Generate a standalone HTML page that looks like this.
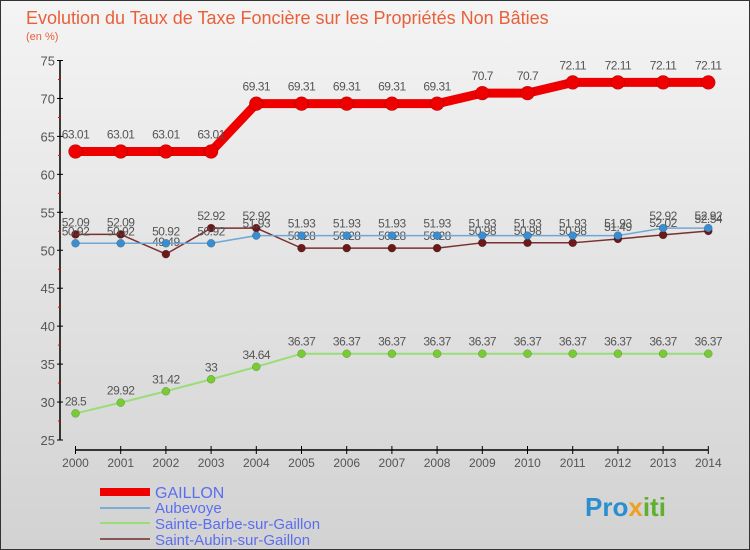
<!DOCTYPE html>
<html><head><meta charset="utf-8"><style>
body{margin:0;}
svg{display:block;font-family:"Liberation Sans",sans-serif;}
</style></head><body>
<svg id="chart" width="750" height="550" viewBox="0 0 750 550">
<defs>
<linearGradient id="bg" x1="0" y1="0" x2="0" y2="1">
<stop offset="0" stop-color="#f4f4f4"/><stop offset="1" stop-color="#d2d2d2"/>
</linearGradient>
</defs>
<rect x="0" y="0" width="750" height="550" fill="url(#bg)" stroke="#333" stroke-width="2"/>
<text x="26" y="24" font-size="18" fill="#e8603a">Evolution du Taux de Taxe Foncière sur les Propriétés Non Bâties</text>
<text x="26" y="40" font-size="11" fill="#e8603a">(en %)</text>
<g id="axes"></g>
<g id="series"></g>
<g id="legend">
<line x1="100" y1="492" x2="150" y2="492" stroke="#ee0000" stroke-width="8"/>
<text x="155" y="498" font-size="16" fill="#5b6ef0">GAILLON</text>
<line x1="100" y1="508" x2="150" y2="508" stroke="#7aaed0" stroke-width="2"/>
<text x="155" y="513" font-size="15" fill="#5b6ef0">Aubevoye</text>
<line x1="100" y1="523" x2="150" y2="523" stroke="#99dd77" stroke-width="2"/>
<text x="155" y="529" font-size="15" fill="#5b6ef0">Sainte-Barbe-sur-Gaillon</text>
<line x1="100" y1="539" x2="150" y2="539" stroke="#8b5555" stroke-width="2"/>
<text x="155" y="545" font-size="15" fill="#5b6ef0">Saint-Aubin-sur-Gaillon</text>
</g>
<text x="585" y="516" font-size="26" font-weight="bold"><tspan fill="#2a8fd0">Pro</tspan><tspan fill="#f0a020">x</tspan><tspan fill="#60b030">iti</tspan></text>
</svg>
<script>
const years = [2000,2001,2002,2003,2004,2005,2006,2007,2008,2009,2010,2011,2012,2013,2014];
const yTicks = [25,30,35,40,45,50,55,60,65,70,75];
const gaillon = [63.01,63.01,63.01,63.01,69.31,69.31,69.31,69.31,69.31,70.7,70.7,72.11,72.11,72.11,72.11];
const aubevoye = [50.92,50.92,50.92,50.92,51.93,51.93,51.93,51.93,51.93,51.93,51.93,51.93,51.93,52.92,52.92];
const sainteBarbe = [28.5,29.92,31.42,33,34.64,36.37,36.37,36.37,36.37,36.37,36.37,36.37,36.37,36.37,36.37];
const saintAubin = [52.09,52.09,49.49,52.92,52.92,50.28,50.28,50.28,50.28,50.98,50.98,50.98,51.49,52.02,52.54];

const NS="http://www.w3.org/2000/svg";
const x0=75.5, xStep=45.2, yMin=25, yMax=75, yTop=60.5, yBot=440;
function xs(i){return x0+i*xStep;}
function ys(v){return yBot-(v-yMin)/(yMax-yMin)*(yBot-yTop);}
function mk(tag,attrs,parent){const e=document.createElementNS(NS,tag);for(const k in attrs)e.setAttribute(k,attrs[k]);parent.appendChild(e);return e;}
function fmt(v){return String(v);}

const axes=document.getElementById('axes');
let yl=mk('line',{x1:60,y1:yTop,x2:60,y2:yBot,stroke:'#000','stroke-width':1.5},axes);


yTicks.forEach((t,i)=>{
  mk('line',{x1:57,y1:ys(t),x2:63,y2:ys(t),stroke:'#000'},axes);
  const tx=mk('text',{x:55,y:ys(t)+5,'font-size':13,fill:'#555','text-anchor':'end'},axes);
  tx.textContent=t;
  
  
  if(i<yTicks.length-1) mk('line',{x1:58,y1:ys(t+2.5),x2:61,y2:ys(t+2.5),stroke:'#e00'},axes);
});
let xl=mk('line',{x1:xs(0),y1:450,x2:xs(years.length-1),y2:450,stroke:'#000','stroke-width':1.5},axes);


years.forEach((y,i)=>{
  mk('line',{x1:xs(i),y1:446,x2:xs(i),y2:454,stroke:'#000'},axes);
  const tx=mk('text',{x:xs(i),y:467,'font-size':12,fill:'#555','text-anchor':'middle'},axes);
  tx.textContent=y;
  
  
});

const sg=document.getElementById('series');
function drawSeries(vals,name,color,lw,r,mcolor,labelOff){
  const g=mk('g',{},sg);
  
  
  const p=mk('polyline',{points:vals.map((v,i)=>xs(i)+','+ys(v)).join(' '),fill:'none',stroke:color,'stroke-width':lw,'stroke-linejoin':'round'},g);
  
  
  vals.forEach((v,i)=>{
    const c=mk('circle',{cx:xs(i),cy:ys(v),r:r,fill:mcolor,stroke:'rgba(0,0,0,0.3)','stroke-width':0.5},g);
    
    
    const t=mk('text',{x:xs(i),y:ys(v)+labelOff,'font-size':12,fill:'#555','text-anchor':'middle','letter-spacing':'-0.5'},g);
    t.textContent=fmt(v);
    
    
  });
}
drawSeries(sainteBarbe,'sainte-barbe','#99dd77',2,4,'#77cc33',-8);
drawSeries(saintAubin,'saint-aubin','#7a3030',1.5,4,'#6a1a1a',-8);
drawSeries(aubevoye,'aubevoye','#6fa8d8',1.5,4,'#3a8ed0',-8);
drawSeries(gaillon,'gaillon','#ee0000',9,7,'#ee0000',-13);
</script>
</body></html>
